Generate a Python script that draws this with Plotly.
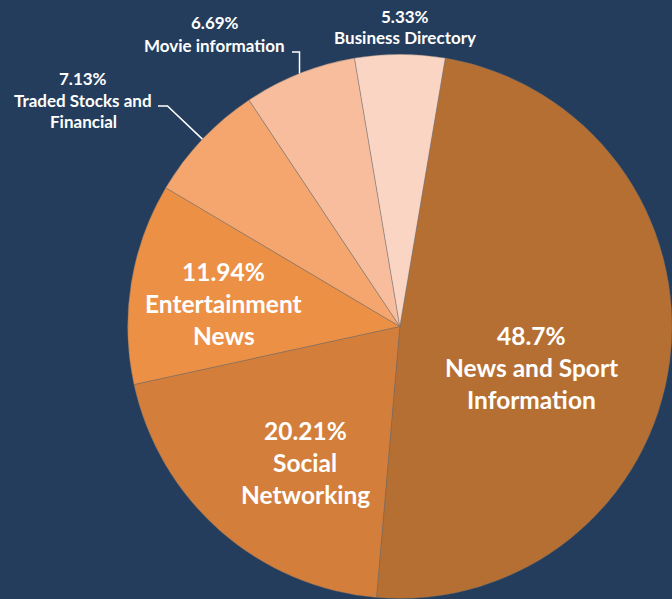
import math
import plotly.graph_objects as go

# ---- data ----
categories = ["News and Sport Information", "Social Networking", "Entertainment News",
              "Traded Stocks and Financial", "Movie information", "Business Directory"]
values = [48.7, 20.21, 11.94, 7.13, 6.69, 5.33]
pct_labels = ["48.7%", "20.21%", "11.94%", "7.13%", "6.69%", "5.33%"]
label_lines = [["News and Sport", "Information"], ["Social", "Networking"], ["Entertainment", "News"],
               ["Traded Stocks and", "Financial"], ["Movie information"], ["Business Directory"]]
colors = ["#B56F33", "#D37E3B", "#EB9045", "#F5A66E", "#F8BD9D", "#FBD5C4"]

W, H = 672, 599
BG = "#243D5C"
FONT = "Lato"
dom_x = [0.19, 1.0]
dom_y = [0.0, 0.91]
rotation = 9.6

cx = (dom_x[0] + dom_x[1]) / 2 * W
cy = (1 - (dom_y[0] + dom_y[1]) / 2) * H
R = min((dom_x[1] - dom_x[0]) * W, (dom_y[1] - dom_y[0]) * H) / 2

total = sum(values)
mid_angles = []
acc = 0.0
for v in values:
    mid_angles.append(rotation + 360.0 * (acc + v / 2) / total)
    acc += v


def polar_px(angle_deg, rad):
    a = math.radians(angle_deg)
    return cx + rad * math.sin(a), cy - rad * math.cos(a)


def to_paper(px, py):
    return px / W, 1 - py / H


annotations = []


def add_block(lines, x_px, y_px, size, spacing):
    n = len(lines)
    for k, t in enumerate(lines):
        yy = y_px + (k - (n - 1) / 2) * spacing
        xp, yp = to_paper(x_px, yy)
        annotations.append(dict(x=xp, y=yp, xref="paper", yref="paper", text=t, showarrow=False,
                                xanchor="center", yanchor="middle",
                                font=dict(family=FONT, size=size, color="white", weight="bold")))


# inside labels: (angle offset from slice middle, radius fraction)
inside_pos = {0: (10, 0.505), 1: (-6.5, 0.61), 2: (-1.6, 0.653)}
for i, (da, rf) in inside_pos.items():
    x, y = polar_px(mid_angles[i] + da, rf * R)
    add_block([pct_labels[i]] + label_lines[i], x, y, 24.5, 32)

# outside labels: block centre (px), leader horizontal y, leader end x
outside = {
    3: dict(pos=(83, 100), hy=106, hx=158, elbow="radial"),
    4: dict(pos=(215, 34), hy=52, hx=292, elbow="vertical"),
    5: dict(pos=(405, 27), hy=None, hx=None, elbow=None),
}
shapes = []
for i, o in outside.items():
    add_block([pct_labels[i]] + label_lines[i], o["pos"][0], o["pos"][1], 17, 22)
    if o["elbow"] is None:
        continue
    ex, ey = polar_px(mid_angles[i], R)
    if o["elbow"] == "radial":
        a = math.radians(mid_angles[i])
        t = (cy - o["hy"]) / math.cos(a)
        bx, by = cx + t * math.sin(a), o["hy"]
    else:
        bx, by = ex, o["hy"]
    p0 = to_paper(ex, ey)
    p1 = to_paper(bx, by)
    p2 = to_paper(o["hx"], o["hy"])
    shapes.append(dict(type="path", xref="paper", yref="paper",
                       path=f"M {p0[0]},{p0[1]} L {p1[0]},{p1[1]} L {p2[0]},{p2[1]}",
                       line=dict(color="white", width=1.5)))

fig = go.Figure(go.Pie(
    labels=categories, values=values, sort=False, direction="clockwise", rotation=rotation,
    marker=dict(colors=colors, line=dict(color="rgba(110,110,110,0.7)", width=0.6)),
    textinfo="none", hoverinfo="label+percent", showlegend=False,
    domain=dict(x=dom_x, y=dom_y),
))
fig.update_layout(
    width=W, height=H, margin=dict(l=0, r=0, t=0, b=0),
    paper_bgcolor=BG, plot_bgcolor=BG,
    annotations=annotations, shapes=shapes,
)
fig.write_html("out.html", config={"displayModeBar": False},
               post_script="document.body.style.margin='0';document.body.style.overflow='hidden';"
                           "document.body.style.background='" + BG + "';")
